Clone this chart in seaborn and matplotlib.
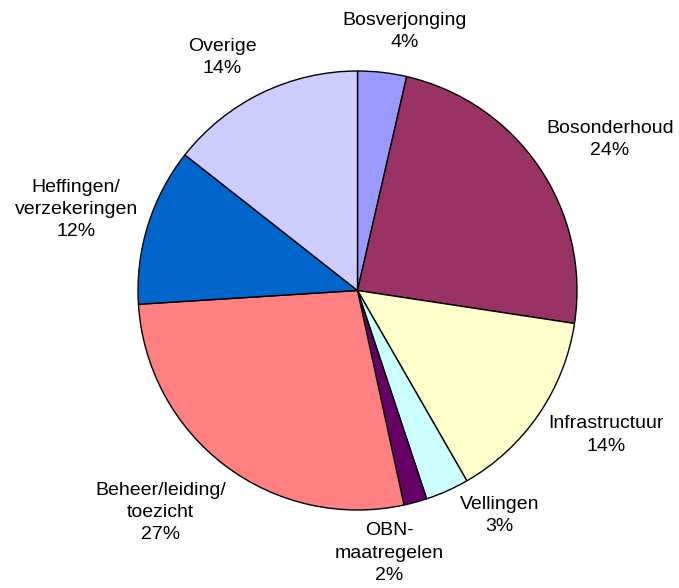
import numpy as np
import matplotlib
matplotlib.use("Agg")
import matplotlib.pyplot as plt
import seaborn as sns

# --- Data ---
categories = ["Bosverjonging", "Bosonderhoud", "Infrastructuur", "Vellingen",
              "OBN-\nmaatregelen", "Beheer/leiding/\ntoezicht",
              "Heffingen/\nverzekeringen", "Overige"]
shares = [3.6, 23.8, 14.3, 3.2, 1.7, 27.4, 11.6, 14.4]
slice_colors = ["#9999FF", "#993366", "#FFFFCC", "#CCFFFF",
                "#660066", "#FF8080", "#0066CC", "#CCCCFF"]

# small hand nudges (pixels, x right / y up) so labels sit where Excel put them
label_nudge = [(13, 0), (0, 4), (2, 3), (27, 13),
               (-46, 0), (-12, -5), (8, 0), (-15, -2)]

sns.set_theme(style="white")
plt.rcParams["font.family"] = ["Liberation Sans", "DejaVu Sans"]

fig = plt.figure(figsize=(6.79, 5.88), dpi=100)
ax = fig.add_axes([138 / 679, 78 / 588, 439 / 679, 439 / 588])

palette = sns.color_palette(slice_colors)
wedges, _ = ax.pie(shares, colors=palette, startangle=90, counterclock=False,
                   wedgeprops=dict(edgecolor="black", linewidth=1.0))
ax.set_xlim(-1, 1)
ax.set_ylim(-1, 1)
ax.set_aspect("equal")

# Labels: anchor just outside each wedge, then push the text box outward
total = float(np.sum(shares))
texts = []
for w, name, val in zip(wedges, categories, shares):
    mid = np.deg2rad((w.theta1 + w.theta2) / 2)
    anchor = (1.1 * np.cos(mid), 1.1 * np.sin(mid))
    t = ax.text(anchor[0], anchor[1], f"{name}\n{val / total * 100:.0f}%",
                ha="center", va="center", multialignment="center",
                fontsize=14, color="black", linespacing=1.4)
    texts.append((t, mid))

renderer = fig.canvas.get_renderer()
for (t, mid), nudge in zip(texts, label_nudge):
    bb = t.get_window_extent(renderer)
    px = ax.transData.transform(t.get_position())
    px = px + np.array([bb.width / 2 * np.cos(mid), bb.height / 2 * np.sin(mid)])
    px = px + np.array(nudge)
    t.set_position(ax.transData.inverted().transform(px))

fig.savefig("out.png", dpi=100, facecolor="white")
